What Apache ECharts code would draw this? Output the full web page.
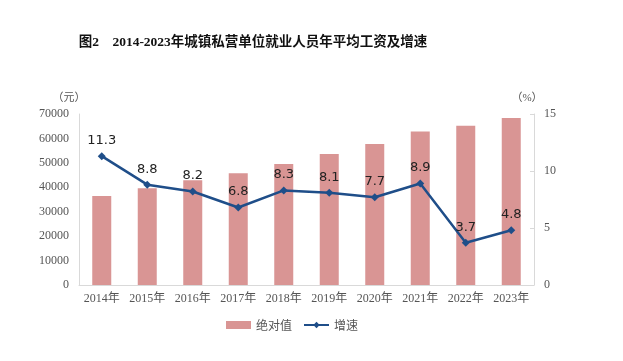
<!DOCTYPE html>
<html><head><meta charset="utf-8">
<script src="https://cdn.jsdelivr.net/npm/echarts@6/dist/echarts.min.js"></script>
<style>html,body{margin:0;padding:0;background:#fff}#c{width:623px;height:361px}</style>
</head><body><div id="c"></div>
<script>
var categories = ['2014年','2015年','2016年','2017年','2018年','2019年','2020年','2021年','2022年','2023年'];
var wages = [36390, 39589, 42833, 45761, 49575, 53604, 57727, 62884, 65237, 68340];
var growth = [11.3, 8.8, 8.2, 6.8, 8.3, 8.1, 7.7, 8.9, 3.7, 4.8];
var leftTicks = [0, 10000, 70000];
var rightTicks = [0, 5, 15];

var serif = '"Liberation Serif","Noto Sans CJK SC",serif';
var chart = echarts.init(document.getElementById('c'));
chart.setOption({
  animation: false,
  title: {
    text: '图2    2014-2023年城镇私营单位就业人员年平均工资及增速',
    left: 248, top: 31, textAlign: 'center',
    textStyle: {fontFamily: '"Liberation Serif","Noto Sans CJK SC",serif', fontSize: 13.5, fontWeight: 'bold', color: '#111'}
  },
  legend: {
    bottom: 25, left: 221, itemGap: 11, itemWidth: 25, itemHeight: 8,
    textStyle: {fontFamily: '"Noto Sans CJK SC",sans-serif', fontSize: 12, color: '#555'},
    data: [{name: '绝对值', icon: 'rect'}, {name: '增速'}]
  },
  grid: {left: 79, right: 89, top: 114, bottom: 76},
  xAxis: {
    type: 'category', data: categories,
    axisLine: {lineStyle: {color: '#d9d9d9'}},
    axisTick: {show: false},
    axisLabel: {interval: 0, fontFamily: serif, fontSize: 12, color: '#555', margin: 8}
  },
  yAxis: [{
    type: 'value', min: leftTicks[0], max: leftTicks[2], interval: leftTicks[1],
    name: '（元）', nameGap: 10, nameTextStyle: {fontFamily: serif, fontSize: 11, color: '#555', padding: [0, 20, 0, 0]},
    axisLine: {show: true, lineStyle: {color: '#d9d9d9'}},
    axisTick: {show: false},
    splitLine: {show: false},
    axisLabel: {fontFamily: serif, fontSize: 12, color: '#555', margin: 10, formatter: function (v) { return String(v); }}
  }, {
    type: 'value', min: rightTicks[0], max: rightTicks[2], interval: rightTicks[1],
    name: '（%）', nameGap: 10, nameTextStyle: {fontFamily: serif, fontSize: 11, color: '#555', padding: [0, 0, 0, -14]},
    axisLine: {show: true, lineStyle: {color: '#d9d9d9'}},
    axisTick: {show: true, inside: true, length: 4, lineStyle: {color: '#d9d9d9'}},
    splitLine: {show: false},
    axisLabel: {fontFamily: serif, fontSize: 12, color: '#555', margin: 10}
  }],
  series: [{
    name: '绝对值', type: 'bar', data: wages, barWidth: 19,
    itemStyle: {color: '#d99594'}
  }, {
    name: '增速', type: 'line', yAxisIndex: 1, data: growth,
    symbol: 'diamond', symbolSize: 8,
    lineStyle: {color: '#1f4e89', width: 2.5},
    itemStyle: {color: '#1f4e89'},
    label: {show: true, position: 'top', distance: 5, fontFamily: '"DejaVu Sans",sans-serif', fontSize: 13, color: '#222'}
  }]
});
</script></body></html>
